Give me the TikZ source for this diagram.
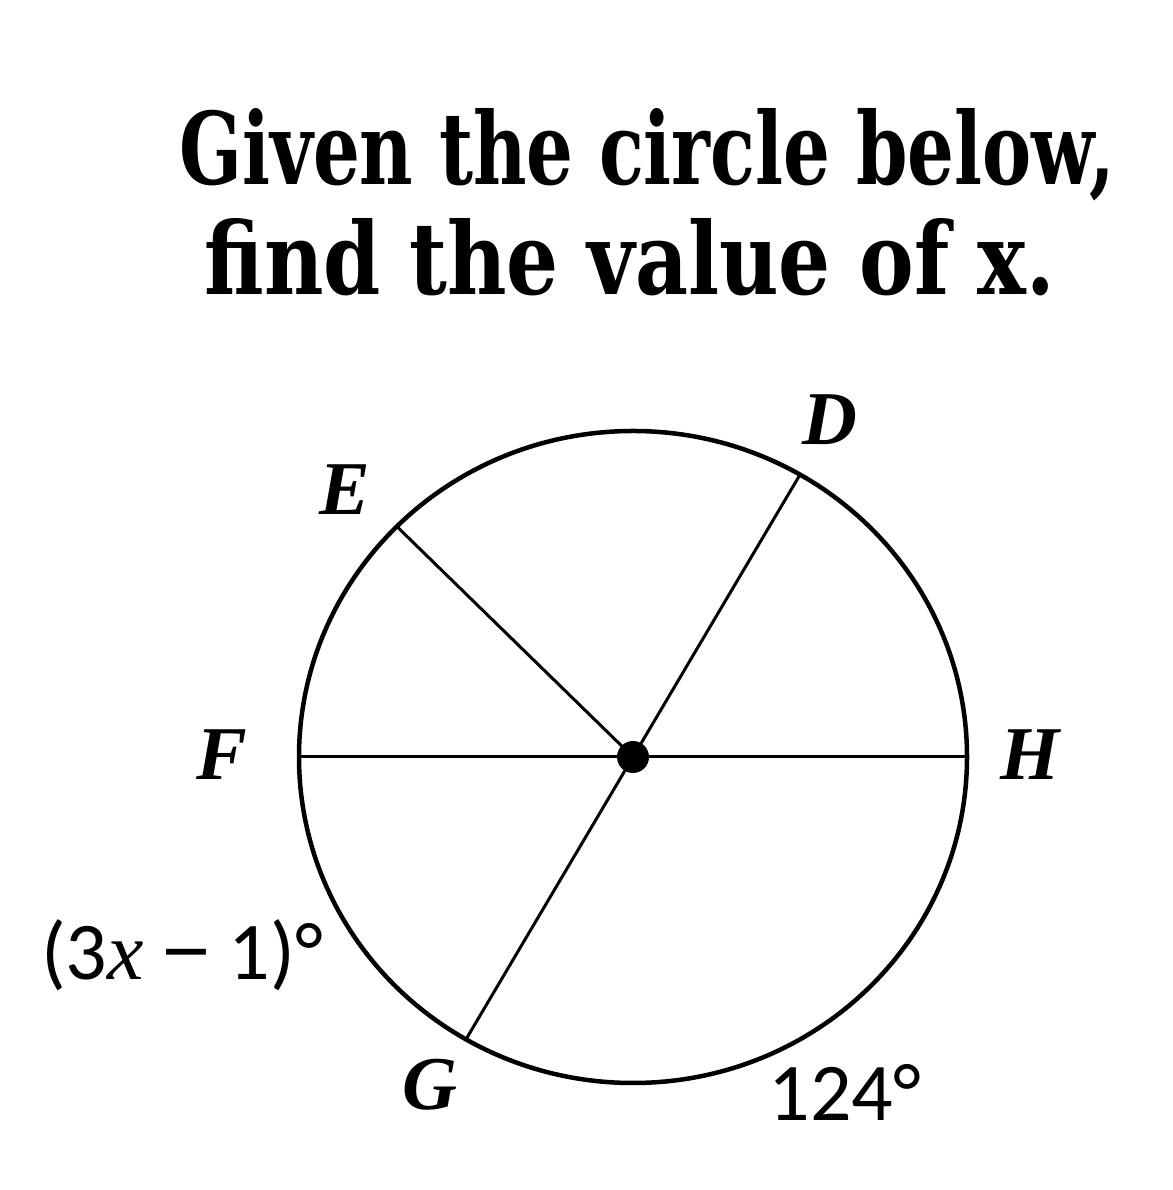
\documentclass[tikz,border=0pt]{standalone}
\usepackage{fontspec}
\usetikzlibrary{calc}
\newfontfamily\titlefont{DejaVu Serif}
\newfontfamily\labfont{Liberation Serif}
\newfontfamily\numfont{Carlito}
\newfontfamily\minusfont{Liberation Sans}
\begin{document}
\begin{tikzpicture}[x=1pt,y=1pt,
  ptlabel/.style={font=\labfont\bfseries\itshape\fontsize{76}{80}\selectfont, inner sep=0pt},
  arclabel/.style={font=\numfont\fontsize{82}{86}\selectfont, inner sep=0pt},
  chord/.style={line width=3pt},
  rim/.style={line width=4.5pt}]
\useasboundingbox (0,0) rectangle (1172,1190);
\fill[white] (0,0) rectangle (1172,1190);
% title
\node[anchor=base, inner sep=0pt] (t1) at (647,1005)
  {\resizebox{935pt}{76pt}{\titlefont\bfseries Given the circle below,}};
\node[anchor=base, inner sep=0pt] (t2) at (630,895)
  {\resizebox{850pt}{76pt}{\titlefont\bfseries find the value of x.}};
% circle
\coordinate (O) at (633,433);
\draw[rim] (O) ellipse [x radius=334, y radius=326];
\coordinate (D) at ($(O)+(60:334 and 326)$);
\coordinate (E) at ($(O)+(135:334 and 326)$);
\coordinate (F) at ($(O)+(180:334 and 326)$);
\coordinate (G) at ($(O)+(240:334 and 326)$);
\coordinate (H) at ($(O)+(0:334 and 326)$);
\draw[chord] (F) -- (H);
\draw[chord] (D) -- (G);
\draw[chord] (E) -- (O);
\fill (O) circle [radius=16];
% labels
\node[ptlabel] (lD) at (830,770) {D};
\node[ptlabel] (lE) at (345,700) {E};
\node[ptlabel] (lF) at (222,435) {F};
\node[ptlabel] (lH) at (1030,435) {H};
\node[ptlabel] (lG) at (430,105) {G};
\node[arclabel] (a1) at (182,235) {(3{\labfont\itshape x} {\minusfont −} 1)°};
\node[arclabel] (a2) at (845,98) {124°};
\end{tikzpicture}
\end{document}
